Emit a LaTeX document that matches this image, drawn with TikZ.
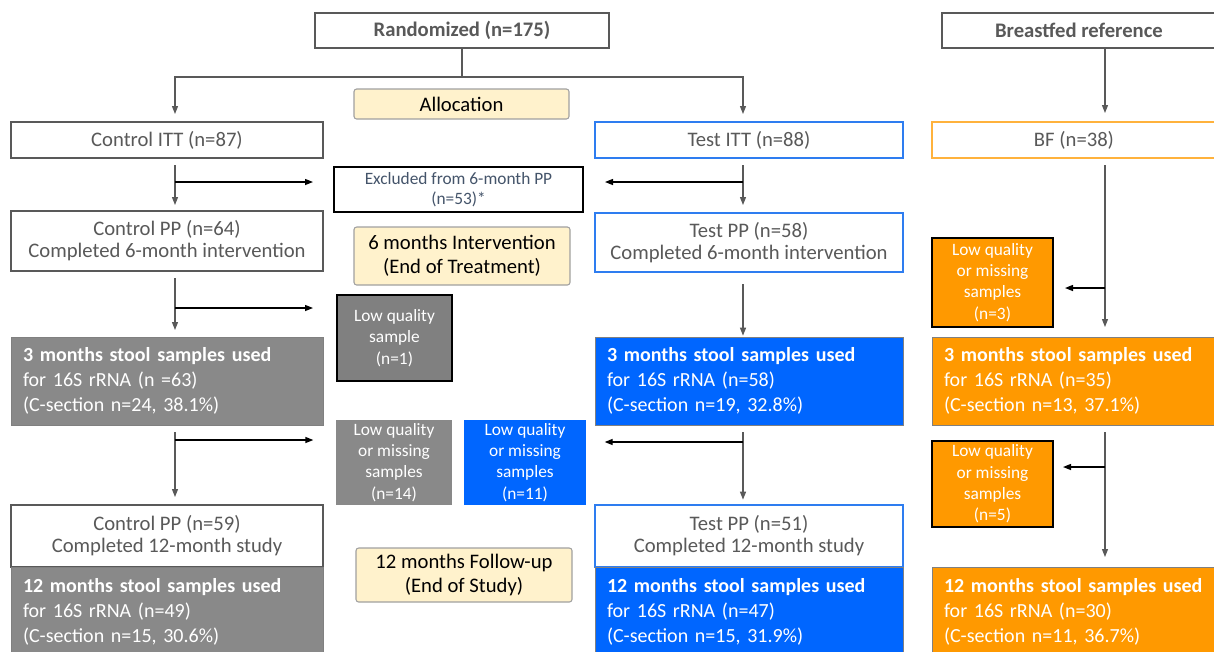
\documentclass[tikz,border=0pt]{standalone}
\usepackage{fontspec}
\setmainfont{Carlito}
\usetikzlibrary{arrows.meta}
\definecolor{tg}{HTML}{595959}
\definecolor{exc}{HTML}{44546A}
\definecolor{blueF}{HTML}{0066FF}
\definecolor{blueB}{RGB}{46,125,240}
\definecolor{orF}{HTML}{FF9900}
\definecolor{orB}{RGB}{255,178,60}
\definecolor{grF}{HTML}{898989}
\definecolor{grD}{HTML}{808080}
\definecolor{yelF}{HTML}{FFF2CC}
\definecolor{yelB}{HTML}{A0A0A0}
\newcommand{\mybox}[7]{\node[#6, minimum width={(#4-#2)*0.75pt}, minimum height={(#5-#3)*0.75pt}] (#1) at ({(#2+#4)/2},{(#3+#5)/2}) {#7};}
\tikzset{
  base/.style={inner sep=0pt, outer sep=0pt, align=center},
  whitebox/.style={base, draw=tg, line width=0.8pt, fill=white, text=tg, font=\fontsize{15.5}{16.5}\selectfont},
  testbox/.style={whitebox, draw=blueB},
  bfbox/.style={whitebox, draw=orB},
  headbox/.style={whitebox, font=\fontsize{15.5}{18}\bfseries\selectfont},
  yelbox/.style={base, draw=yelB, line width=0.8pt, fill=yelF, rounded corners=2pt, text=black, font=\fontsize{15.5}{18}\selectfont},
  exclbox/.style={base, draw=black, line width=1pt, fill=white, text=exc, font=\fontsize{13}{15}\selectfont},
  lqbox/.style={base, text=white, font=\fontsize{13}{16}\selectfont},
  stool/.style={base, align=left, inner xsep=9pt, text=white, font=\fontsize{15}{18.75}\selectfont},
  main/.style={draw=tg, line width=0.9pt, -{Triangle[length=6pt,width=4.5pt]}},
  plain/.style={draw=tg, line width=0.9pt},
  side/.style={draw=black, line width=1pt, -{Triangle[length=6pt,width=4.5pt]}}
}
\begin{document}
\begin{tikzpicture}[x=0.75pt,y=-0.75pt]
\useasboundingbox (0,0) rectangle (1214,651);
\clip (0,0) rectangle (1214,651);
% column lines
\coordinate (colC) at (175,0);
\coordinate (colT) at (743,0);
\coordinate (colB) at (1105,0);
% headers
\mybox{rand}{315}{13}{609}{48}{headbox}{Randomized (n=175)}
\mybox{bfref}{942}{13}{1216}{48}{headbox}{Breastfed reference}
\mybox{alloc}{354}{89}{569}{119}{yelbox}{Allocation}
% ITT
\mybox{citt}{11}{122}{323}{158}{whitebox}{Control ITT (n=87)}
\mybox{titt}{595}{122}{903}{158}{testbox}{Test ITT (n=88)}
\mybox{bf}{932}{122}{1216}{158}{bfbox}{BF (n=38)}
\mybox{excl}{334}{167}{583}{212}{exclbox}{Excluded from 6-month PP\\(n=53)*}
% PP 6 months
\mybox{cpp}{11}{211}{323}{271}{whitebox}{Control PP (n=64)\\Completed 6-month intervention}
\mybox{six}{354}{227}{570}{285}{yelbox}{6 months Intervention\\(End of Treatment)}
\mybox{tpp}{595}{213}{903}{272}{testbox}{Test PP (n=58)\\Completed 6-month intervention}
\mybox{lqo1}{932}{238}{1053}{327}{lqbox, fill=orF, draw=black, line width=1pt}{Low quality\\or missing\\samples\\(n=3)}
\mybox{lqc1}{337}{295}{452}{381}{lqbox, fill=grD, draw=black, line width=1pt}{Low quality\\sample\\(n=1)}
% 3 months
\mybox{c3}{11}{337}{323}{425}{stool, fill=grF, draw=grD, text width=216pt}{\textbf{3 months stool samples used}\\for 16S rRNA (n =63)\\(C-section n=24, 38.1\%)}
\mybox{t3}{595}{337}{903}{425}{stool, fill=blueF, draw=grD, text width=213pt}{\textbf{3 months stool samples used}\\for 16S rRNA (n=58)\\(C-section n=19, 32.8\%)}
\mybox{b3}{932}{337}{1216}{425}{stool, fill=orF, draw=grD, text width=195pt}{\textbf{3 months stool samples used}\\for 16S rRNA (n=35)\\(C-section n=13, 37.1\%)}
\mybox{lqg}{336}{420}{452}{505}{lqbox, fill=grF}{Low quality\\or missing\\samples\\(n=14)}
\mybox{lqb}{464}{420}{586}{505}{lqbox, fill=blueF}{Low quality\\or missing\\samples\\(n=11)}
\mybox{lqo2}{932}{441}{1053}{527}{lqbox, fill=orF, draw=black, line width=1pt}{Low quality\\or missing\\samples\\(n=5)}
% PP 12 months
\mybox{cpp12}{11}{505}{323}{567}{whitebox}{Control PP (n=59)\\Completed 12-month study}
\mybox{tpp12}{595}{505}{903}{567}{testbox}{Test PP (n=51)\\Completed 12-month study}
\mybox{twelve}{356}{548}{572}{602}{yelbox}{12 months Follow-up\\(End of Study)}
% 12 months stool
\mybox{c12}{11}{567}{323}{657}{stool, fill=grF, draw=grD, text width=216pt}{\textbf{12 months stool samples used}\\for 16S rRNA (n=49)\\(C-section n=15, 30.6\%)}
\mybox{t12}{595}{567}{903}{657}{stool, fill=blueF, draw=grD, text width=213pt}{\textbf{12 months stool samples used}\\for 16S rRNA (n=47)\\(C-section n=15, 31.9\%)}
\mybox{b12}{932}{567}{1216}{657}{stool, fill=orF, draw=grD, text width=195pt}{\textbf{12 months stool samples used}\\for 16S rRNA (n=30)\\(C-section n=11, 36.7\%)}
% randomization split
\coordinate (jn) at (462,77);
\draw[plain] (rand.south) -- (jn);
\draw[main, shorten >=6pt] (jn) -| (citt.north -| colC);
\draw[main, shorten >=6pt] (jn) -| (titt.north -| colT);
\draw[main, shorten >=6.75pt] (bfref.south -| colB) -- (bf.north -| colB);
% vertical flows
\draw[main, shorten <=5.25pt, shorten >=4.5pt] (citt.south -| colC) -- (cpp.north -| colC);
\draw[main, shorten <=5.25pt, shorten >=6pt] (titt.south -| colT) -- (tpp.north -| colT);
\draw[main, shorten <=5.25pt, shorten >=7.5pt] (bf.south -| colB) -- (b3.north -| colB);
\draw[main, shorten <=5.25pt, shorten >=5.25pt] (cpp.south -| colC) -- (c3.north -| colC);
\draw[main, shorten <=9pt, shorten >=1pt] (tpp.south -| colT) -- (t3.north -| colT);
\draw[main, shorten <=5.25pt, shorten >=6pt] (c3.south -| colC) -- (cpp12.north -| colC);
\draw[main, shorten <=5.25pt, shorten >=4pt] (t3.south -| colT) -- (tpp12.north -| colT);
\draw[main, shorten <=5.25pt, shorten >=7.5pt] (b3.south -| colB) -- (b12.north -| colB);
% side branches
\coordinate (s1) at (175,182);
\coordinate (s2) at (743,182);
\coordinate (s3) at (175,308);
\coordinate (s4) at (175,440);
\coordinate (s5) at (743,442);
\coordinate (s6) at (1105,288);
\coordinate (s7) at (1105,467);
\draw[side, shorten >=15.75pt] (s1) -- (s1 -| excl.west);
\draw[side, shorten >=16.5pt] (s2) -- (s2 -| excl.east);
\draw[side, shorten >=18pt] (s3) -- (s3 -| lqc1.west);
\draw[side, shorten >=17pt] (s4) -- (s4 -| lqg.west);
\draw[side, shorten >=14pt] (s5) -- (s5 -| lqb.east);
\draw[side, shorten >=9pt] (s6) -- (s6 -| lqo1.east);
\draw[side, shorten >=7.5pt] (s7) -- (s7 -| lqo2.east);
\end{tikzpicture}
\end{document}
